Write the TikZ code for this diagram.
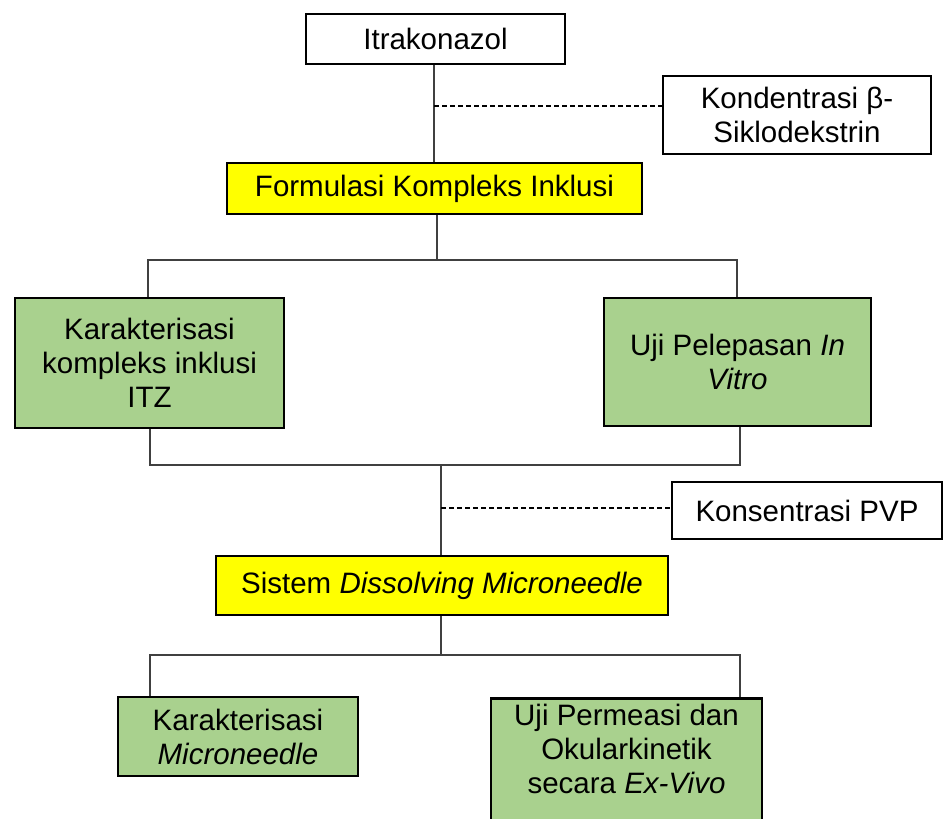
\documentclass[tikz,border=0pt]{standalone}
\usepackage{fontspec}
\setmainfont{Liberation Sans}
\definecolor{boxyellow}{HTML}{FFFF00}
\definecolor{boxgreen}{HTML}{A9D18E}
\tikzset{
  box/.style={draw, line width=2.7pt, align=center, inner sep=0pt},
  whitebox/.style={box, fill=white},
  yellowbox/.style={box, fill=boxyellow},
  greenbox/.style={box, fill=boxgreen},
  link/.style={line width=1.3pt, draw=black!75},
  dashlink/.style={line width=1.2pt, dashed, dash pattern=on 5pt off 3pt}
}
\begin{document}
\begin{tikzpicture}[x=1pt,y=-1pt,font=\fontsize{29.5}{34}\selectfont]
\useasboundingbox (0,0) rectangle (943,819);
\clip (0,0) rectangle (943,819);
% boxes
\node[whitebox, minimum width=259pt, minimum height=50pt] (itra) at (435.5,39) {Itrakonazol};
\node[whitebox, minimum width=268pt, minimum height=78pt] (kond) at (797,115) {Kondentrasi β-\\Siklodekstrin};
\node[yellowbox, minimum width=415pt, minimum height=51pt] (form) at (434.5,188.5) {Formulasi Kompleks Inklusi};
\node[greenbox, minimum width=269pt, minimum height=130pt] (karitz) at (149.5,363) {Karakterisasi\\kompleks inklusi\\ITZ};
\node[greenbox, minimum width=267pt, minimum height=128pt] (uji) at (737.5,362) {Uji Pelepasan \textit{In}\\\textit{Vitro}};
\node[whitebox, minimum width=270pt, minimum height=57pt] (pvp) at (807,510.5) {Konsentrasi PVP};
\node[yellowbox, minimum width=452pt, minimum height=59pt] (sistem) at (442,585.5) {Sistem \textit{Dissolving Microneedle}};
\node[greenbox, minimum width=240pt, minimum height=79pt] (karmn) at (238,736.5) {Karakterisasi\\\textit{Microneedle}};
\node[greenbox, minimum width=271pt, inner ysep=6pt, text depth=110pt, anchor=north] (perm) at (626.5,697) {Uji Permeasi dan\\Okularkinetik\\secara \textit{Ex-Vivo}};
% junctions
\coordinate (d1) at (434,106);
\coordinate (j1) at (437,260);
\coordinate (j1l) at (148,260);
\coordinate (j1r) at (737,260);
\coordinate (j2l) at (150,465);
\coordinate (j2r) at (740,465);
\coordinate (j2) at (441,465);
\coordinate (d2) at (441,508);
\coordinate (j3) at (441,655);
\coordinate (j3l) at (150,655);
\coordinate (j3r) at (740,655);
% connectors
\draw[link] (itra.south -| d1) -- (form.north -| d1);
\draw[dashlink] (d1) -- (d1 -| kond.west);
\draw[link] (form.south -| j1) -- (j1);
\draw[link] (karitz.north -| j1l) -- (j1l) -- (j1r) -- (uji.north -| j1r);
\draw[link] (karitz.south -| j2l) -- (j2l) -- (j2r) -- (uji.south -| j2r);
\draw[link] (j2) -- (sistem.north -| j2);
\draw[dashlink] (d2) -- (d2 -| pvp.west);
\draw[link] (sistem.south -| j3) -- (j3);
\draw[link] (karmn.north -| j3l) -- (j3l) -- (j3r) -- (perm.north -| j3r);
\end{tikzpicture}
\end{document}
